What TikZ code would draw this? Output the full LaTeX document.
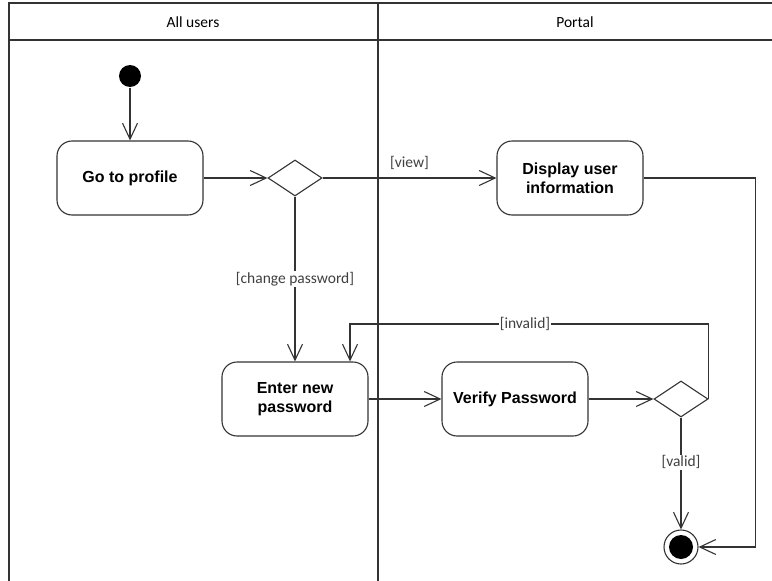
\documentclass[tikz,border=0pt]{standalone}
\usepackage{fontspec}
\setmainfont{Liberation Sans}
\newfontfamily\guardfont{Carlito}
\usetikzlibrary{arrows.meta,shapes.geometric,positioning}
\definecolor{linegray}{HTML}{333333}
\definecolor{textgray}{HTML}{404040}
\tikzset{%
	action/.style   = {draw, rectangle, rounded corners=15, minimum width=146, minimum height=74, align=center, font=\fontsize{16}{19}\selectfont\bfseries},
	choice/.style   = {draw, diamond, minimum width=54, minimum height=36, inner sep=0pt}, % Decision
	startnode/.style= {circle, fill=black, minimum size=22, inner sep=0pt}, % Initial
	endnode/.style  = {circle, draw, fill=white, minimum size=34, inner sep=0pt}, % Final
	guard/.style    = {font=\guardfont\fontsize{15.5}{18}\selectfont, text=textgray, inner sep=1pt},
	lane/.style     = {font=\guardfont\fontsize{15.5}{18}\selectfont},
	flow/.style     = {line width=1.1pt, color=linegray, -{Straight Barb[length=16pt,width=15pt,line width=1.1pt]}},
}

\begin{document}
\begin{tikzpicture}[x=1pt,y=-1pt,line width=1.1pt,color=linegray]
	\useasboundingbox (0,0) rectangle (772,581);
	% swimlanes
	\draw[line width=1.5pt] (9,581) -- (9,3) -- (772,3);
	\draw[line width=1.5pt] (9,40) -- (772,40);
	\draw[line width=1.5pt] (378,3) -- (378,581);
	\node [lane,text=black] (allusers) at (193,22) {All users};
	\node [lane,text=black] (portal) at (575,22) {Portal};
	
	\node [startnode] (start) at (130,76) {};
	\node [action,text=black] (profile) [below of=start,node distance=102] {Go to profile};
	\node [choice] (view) [right of=profile,node distance=165] {};
	\node [action,text=black] (display) [right of=view,node distance=275] {Display user\\information};
	\node [action,text=black] (enter) [below of=view,node distance=221] {Enter new\\password};
	\node [action,text=black] (verify) [right of=enter,node distance=220] {Verify Password};
	\node [choice] (check) [right of=verify,node distance=166] {};
	\node [endnode] (end) [below of=check,node distance=148] {};
	\fill[black] (end) circle (12);
	
	\draw[flow] (start) -- (profile);
	\draw[flow] (profile) -- (view);
	\draw[flow] (view) -- node[guard,above=7pt] {[view]} (display);
	\draw[flow] (view) -- node[guard,fill=white] {[change password]} (enter);
	\draw[flow] (display.east) -- ++(112,0) |- (end);
	\draw[flow] (enter) -- (verify);
	\draw[flow] (verify) -- (check);
	\draw[flow] (check.east) -- ++(0,-75) -| node[guard,fill=white,pos=0.256] {[invalid]} ([xshift=55pt]enter.north);
	\draw[flow] (check) -- node[guard,fill=white,pos=0.4] {[valid]} (end);
	
\end{tikzpicture}
\end{document}
